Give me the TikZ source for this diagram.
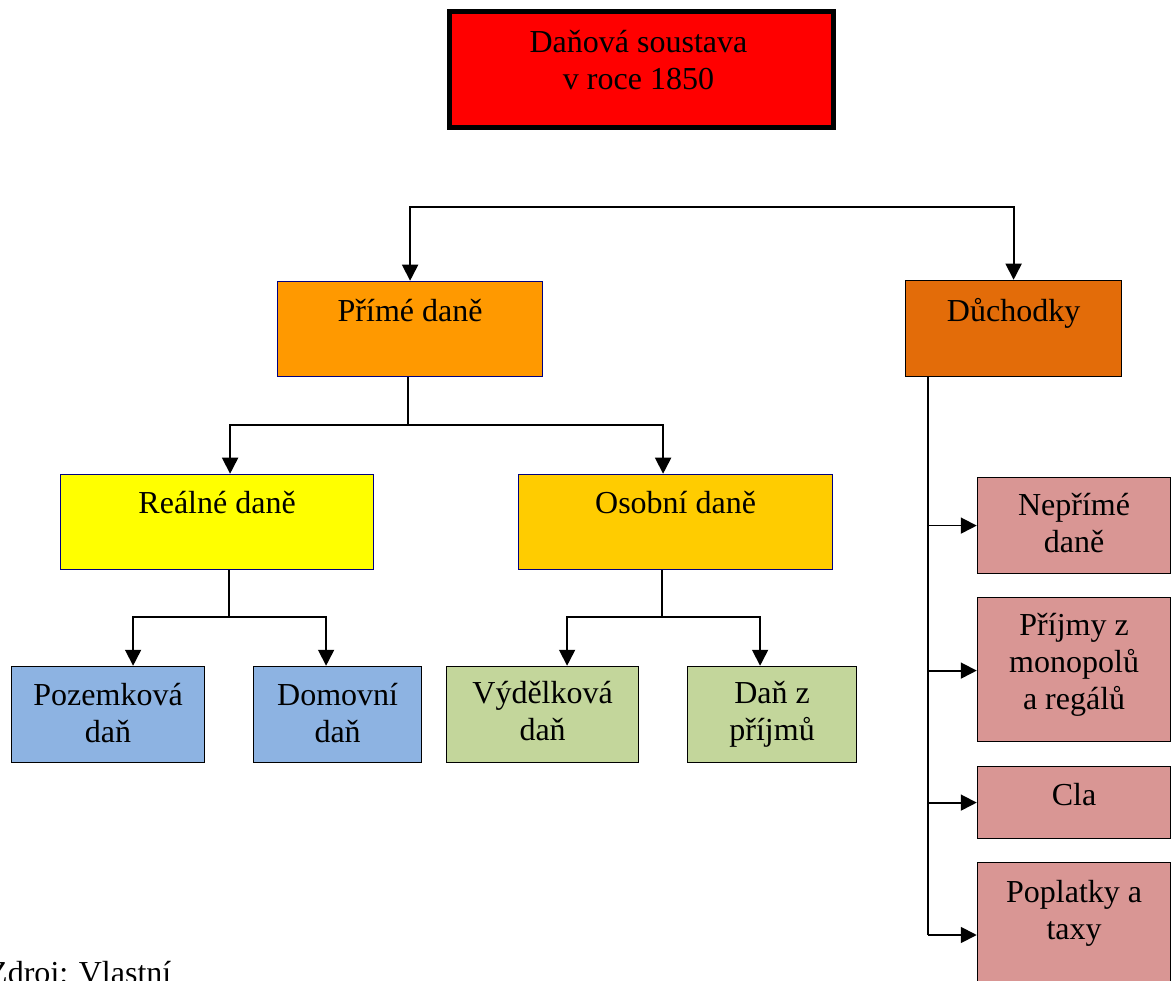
\documentclass[tikz,border=0pt]{standalone}
\usepackage{fontspec}
\setmainfont{Liberation Serif}
\usetikzlibrary{arrows.meta,calc}

\definecolor{topred}{HTML}{FF0000}
\definecolor{primefill}{HTML}{FF9900}
\definecolor{duchfill}{HTML}{E36C09}
\definecolor{realfill}{HTML}{FFFF00}
\definecolor{osobfill}{HTML}{FFCC00}
\definecolor{bluefill}{HTML}{8DB3E2}
\definecolor{greenfill}{HTML}{C3D69B}
\definecolor{pinkfill}{HTML}{D99694}
\definecolor{navyline}{HTML}{000080}

% strut fixing the first baseline 34pt below the top of a label
\newcommand{\firstline}{\rule{0pt}{34pt}}

\tikzset{
  box/.style={draw=black, line width=1.7pt, anchor=north west, inner sep=0pt},
  navybox/.style={box, draw=navyline},
  label text/.style={anchor=north, inner sep=0pt, align=center,
    font=\fontsize{32}{37}\selectfont},
  link/.style={line width=1.8pt, line join=miter},
  arr/.style={link, -{Triangle[length=16pt,width=16pt]}},
}

\begin{document}
\begin{tikzpicture}[x=1pt, y=-1pt]
\useasboundingbox (0,0) rectangle (1171,981);
\clip (0,0) rectangle (1171,981);

% top title box
\node[box, line width=5pt, fill=topred, minimum width=384pt, minimum height=116pt] (top) at (446.5,9.5) {};
\node[label text] (topt) at (638.5,18) {\firstline Daňová soustava\\v roce 1850};

% second level
\node[navybox, fill=primefill, minimum width=265pt, minimum height=95pt] (prime) at (276.75,280.75) {};
\node[label text] at (prime.north |- 0,287) {\firstline Přímé daně};
\node[box, fill=duchfill, minimum width=216pt, minimum height=96pt] (duch) at (904.75,279.75) {};
\node[label text] at (duch.north |- 0,287) {\firstline Důchodky};

% third level
\node[navybox, fill=realfill, minimum width=313pt, minimum height=95pt] (real) at (59.75,473.75) {};
\node[label text] at (real.north |- 0,479) {\firstline Reálné daně};
\node[navybox, fill=osobfill, minimum width=314pt, minimum height=95pt] (osob) at (517.75,473.75) {};
\node[label text] at (osob.north |- 0,479) {\firstline Osobní daně};

% fourth level
\node[box, fill=bluefill, minimum width=193pt, minimum height=96pt] (pozem) at (10.75,665.75) {};
\node[label text] at (pozem.north |- 0,671) {\firstline Pozemková\\daň};
\node[box, fill=bluefill, minimum width=168pt, minimum height=96pt] (domov) at (252.75,665.75) {};
\node[label text] at (domov.north |- 0,671) {\firstline Domovní\\daň};
\node[box, fill=greenfill, minimum width=192pt, minimum height=96pt] (vydel) at (445.75,665.75) {};
\node[label text] at (vydel.north |- 0,669) {\firstline Výdělková\\daň};
\node[box, fill=greenfill, minimum width=169pt, minimum height=96pt] (prijm) at (686.75,665.75) {};
\node[label text] at (prijm.north |- 0,669) {\firstline Daň z\\příjmů};

% right column
\node[box, fill=pinkfill, minimum width=193pt, minimum height=96pt] (neprime) at (976.75,476.75) {};
\node[label text] at (neprime.north |- 0,481) {\firstline Nepřímé\\daně};
\node[box, fill=pinkfill, minimum width=193pt, minimum height=144pt] (monop) at (976.75,596.75) {};
\node[label text] at (monop.north |- 0,601) {\firstline Příjmy z\\monopolů\\a regálů};
\node[box, fill=pinkfill, minimum width=193pt, minimum height=72pt] (cla) at (976.75,765.75) {};
\node[label text] at (cla.north |- 0,771) {\firstline Cla};
\node[box, fill=pinkfill, minimum width=193pt, minimum height=144pt] (popl) at (976.75,861.75) {};
\node[label text] at (popl.north |- 0,868) {\firstline Poplatky a\\taxy};

% source note
\node[anchor=base west, inner sep=0pt, font=\fontsize{32}{37}\selectfont] (zdroj) at (-12,983) {Zdroj: Vlastní};

% connectors
\coordinate (split1) at (710,207);
\draw[arr] (split1) -| (prime.north);
\draw[arr] (split1) -| (duch.north);

\coordinate (split2) at (408,425);
\draw[link] (prime.south -| split2) -- (split2);
\draw[arr] (split2) -| ([xshift=13pt]real.north);
\draw[arr] (split2) -| ([xshift=-12.5pt]osob.north);

\coordinate (split3) at (229,617);
\draw[link] (real.south -| split3) -- (split3);
\draw[arr] (split3) -| ([xshift=25pt]pozem.north);
\draw[arr] (split3) -| ([xshift=-11.5pt]domov.north);

\coordinate (split4) at (662,617);
\draw[link] (osob.south -| split4) -- (split4);
\draw[arr] (split4) -| ([xshift=24.5pt]vydel.north);
\draw[arr] (split4) -| ([xshift=-12pt]prijm.north);

\coordinate (trunk) at (928,935);
\draw[link, line width=2.3pt] (duch.south -| trunk) -- (trunk);
\draw[arr] (neprime.west -| trunk) -- (neprime.west);
\draw[arr] ([yshift=-1pt]monop.west -| trunk) -- ([yshift=-1pt]monop.west);
\draw[arr] (cla.west -| trunk) -- (cla.west);
\draw[arr] (trunk) -- (trunk -| popl.west);
\end{tikzpicture}
\end{document}
